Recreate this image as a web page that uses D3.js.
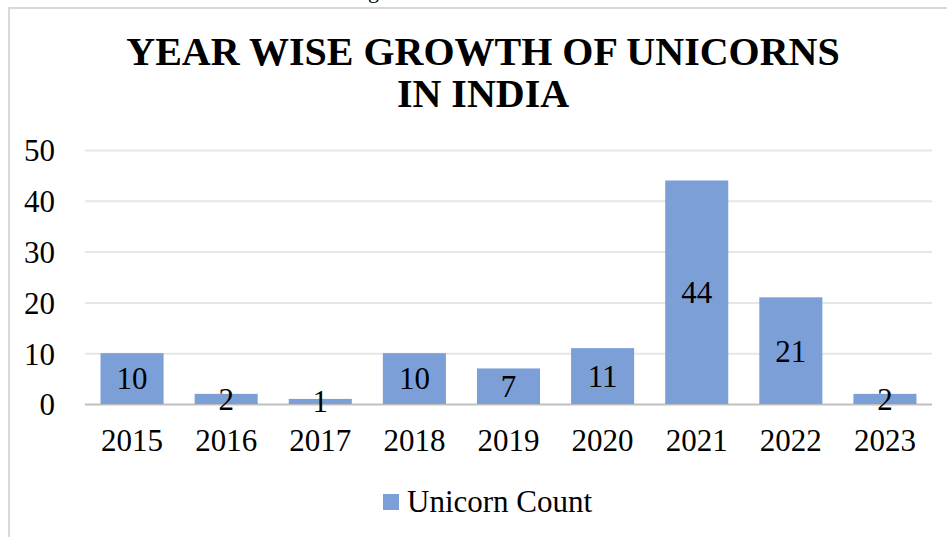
<!DOCTYPE html>
<html>
<head>
<meta charset="utf-8">
<script src="https://cdn.jsdelivr.net/npm/d3@7"></script>
<style>
  body { margin: 0; background: #fff; }
  text { font-family: "Liberation Serif", "Times New Roman", serif; }
</style>
</head>
<body>
<svg width="947" height="537"></svg>
<script>
// dữ liệu
const years = ["2015", "2016", "2017", "2018", "2019", "2020", "2021", "2022", "2023"];
const unicornCount = [10, 2, 1, 10, 7, 11, 44, 21, 2];
const yTicks = [0, 10, 20, 30, 40, 50];
const seriesName = "Unicorn Count";

const svg = d3.select("svg");

// khung viền xám
svg.append("path")
    .attr("d", "M9,540 L9,8 L950,8")
    .attr("fill", "none")
    .attr("stroke", "#d9d9d9")
    .attr("stroke-width", 2);

// chữ bị cắt ở phía trên (phần đuôi chữ g)
svg.append("text")
    .attr("x", 368).attr("y", -2)
    .style("font-size", "22px")
    .text("g");

// tiêu đề
const title = svg.append("text")
    .attr("text-anchor", "middle")
    .style("font-size", "40px")
    .style("font-weight", "bold");
title.append("tspan").attr("x", 483).attr("y", 65).text("YEAR WISE GROWTH OF UNICORNS");
title.append("tspan").attr("x", 483).attr("y", 107).text("IN INDIA");

const margin = { left: 85, right: 15, top: 150, bottom: 133 };
const width = 947 - margin.left - margin.right;
const height = 537 - margin.top - margin.bottom;

const g = svg.append("g").attr("transform", `translate(${margin.left},${margin.top})`);

const x = d3.scaleBand().domain(years).range([0, width]).paddingInner(0.33).paddingOuter(0.165);
const y = d3.scaleLinear().domain([0, 50]).range([height, 0]);

// lưới
g.append("g")
    .call(d3.axisLeft(y).tickValues(yTicks).tickSize(-width).tickFormat(""))
    .call(s => s.select(".domain").remove())
    .call(s => s.selectAll("line").attr("stroke", d => d === 0 ? "#bfbfbf" : "#e6e6e6").attr("stroke-width", 2));

// cột
g.selectAll(".bar")
    .data(years)
    .enter().append("rect")
    .attr("class", "bar")
    .attr("x", d => x(d))
    .attr("width", x.bandwidth())
    .attr("y", (d, i) => y(unicornCount[i]))
    .attr("height", (d, i) => y(0) - y(unicornCount[i]))
    .attr("fill", "#7b9fd6");

// nhãn giá trị
g.selectAll(".label")
    .data(years)
    .enter().append("text")
    .attr("class", "label")
    .attr("x", d => x(d) + x.bandwidth() / 2)
    .attr("y", (d, i) => (y(unicornCount[i]) + y(0)) / 2)
    .attr("dy", "0.35em")
    .attr("text-anchor", "middle")
    .style("font-size", "31px")
    .text((d, i) => unicornCount[i]);

// trục y
g.append("g")
    .attr("transform", "translate(-27,0)")
    .call(d3.axisLeft(y).tickValues(yTicks).tickSize(0))
    .call(s => s.select(".domain").remove())
    .call(s => s.selectAll("text").style("font-size", "31px").attr("fill", "#000").attr("font-family", null).attr("dy", "0.35em"));

// trục x
g.append("g")
    .attr("transform", `translate(0,${height})`)
    .call(d3.axisBottom(x).tickSize(0).tickPadding(25))
    .call(s => s.select(".domain").remove())
    .call(s => s.selectAll("text").style("font-size", "31px").attr("fill", "#000").attr("font-family", null));

// chú thích
svg.append("rect").attr("x", 383).attr("y", 494).attr("width", 16).attr("height", 16).attr("fill", "#7b9fd6");
svg.append("text")
    .attr("x", 407).attr("y", 512)
    .style("font-size", "31px")
    .text(seriesName);
</script>
</body>
</html>
